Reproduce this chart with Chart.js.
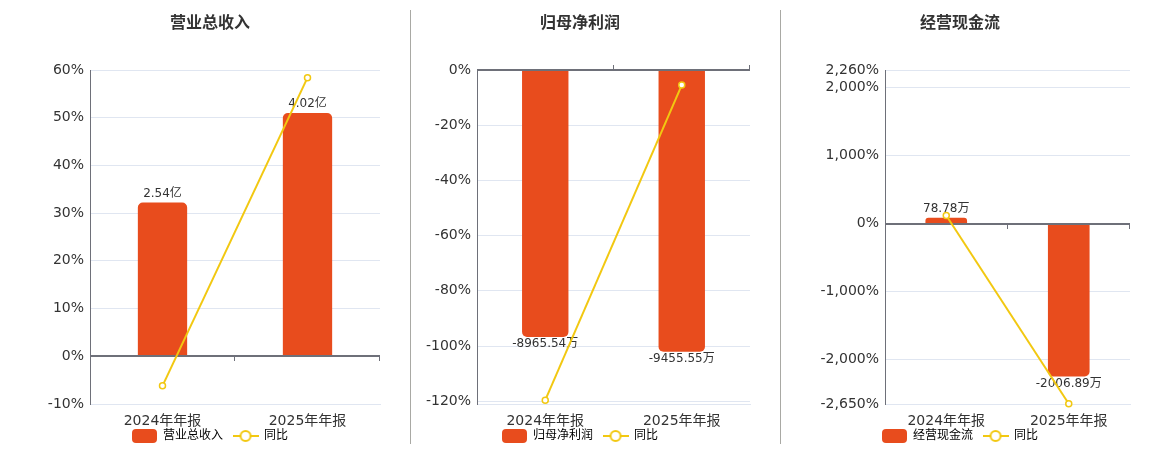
<!DOCTYPE html>
<html>
<head>
<meta charset="utf-8">
<script src="https://cdn.jsdelivr.net/npm/chart.js@4.4.1/dist/chart.umd.min.js"></script>
<style>
  body { margin: 0; width: 1160px; height: 450px; overflow: hidden; background: #fff; position: relative; }
  canvas { position: absolute; top: 0; }
  .sep { position: absolute; top: 10px; width: 1px; height: 434px; background: #a9a9a4; }
</style>
</head>
<body>
<canvas id="c1" width="400" height="452" style="left:10px"></canvas>
<canvas id="c2" width="360" height="452" style="left:400px"></canvas>
<canvas id="c3" width="360" height="452" style="left:780px"></canvas>
<div class="sep" style="left:410px"></div>
<div class="sep" style="left:780px"></div>
<script>
const categories = ["2024年年报", "2025年年报"];

// 营业总收入 (亿) + 同比 (%)
const revenue = [2.54, 4.02];
const revenueYoy = [-6.2, 58.4];
const revenueTicks = [-10, 0, 10, 20, 30, 40, 50, 60];

// 归母净利润 (万) + 同比 (%)
const profit = [-8965.54, -9455.55];
const profitYoy = [-119.6, -5.47];
const profitTicks = [-120, -100, -80, -60, -40, -20, 0];

// 经营现金流 (万) + 同比 (%)
const cashFlow = [78.78, -2006.89];
const cashFlowYoy = [122, -2647];
const cashFlowTicks = [-2650, -2000, -1000, 0, 1000, 2000, 2260];

const BAR = "#e84c1d";
const LINE = "#f2c811";
const FONT = "'DejaVu Sans', 'Noto Sans CJK SC', sans-serif";

Chart.defaults.font.family = FONT;
Chart.defaults.color = "#333";

// legend icons
function barIcon() {
  const c = document.createElement("canvas");
  c.width = 25; c.height = 14;
  const g = c.getContext("2d");
  g.fillStyle = BAR;
  g.beginPath();
  g.roundRect(0, 0, 25, 14, 4);
  g.fill();
  return c;
}
function lineIcon() {
  const c = document.createElement("canvas");
  c.width = 26; c.height = 14;
  const g = c.getContext("2d");
  g.strokeStyle = LINE;
  g.lineWidth = 2;
  g.beginPath(); g.moveTo(0, 7); g.lineTo(26, 7); g.stroke();
  g.fillStyle = "#fff";
  g.beginPath(); g.arc(13, 7, 5, 0, Math.PI * 2); g.fill(); g.stroke();
  return c;
}

// zero axis line with its ticks, and value labels on the bars
const barExtras = {
  id: "barExtras",
  afterDatasetDraw(chart, args, opts) {
    if (args.index !== 0) return;
    const ctx = chart.ctx, area = chart.chartArea;
    const y0 = Math.round(chart.scales.y.getPixelForValue(0));
    ctx.save();
    ctx.strokeStyle = "#6e7079";
    ctx.lineWidth = 2;
    ctx.beginPath(); ctx.moveTo(area.left, y0); ctx.lineTo(area.right, y0); ctx.stroke();
    ctx.lineWidth = 1;
    const n = chart.data.labels.length;
    const step = (area.right - area.left) / n;
    for (let i = 1; i <= n; i++) {
      const x = Math.round(area.left + i * step) - 0.5;
      ctx.beginPath(); ctx.moveTo(x, y0); ctx.lineTo(x, y0 + opts.tickDir * 5); ctx.stroke();
    }
    ctx.font = "12px " + FONT;
    ctx.fillStyle = "#333";
    ctx.textAlign = "center";
    ctx.textBaseline = "middle";
    const values = chart.data.datasets[0].data;
    args.meta.data.forEach((bar, i) => {
      const v = values[i];
      const y = v >= 0 ? bar.y - 9 : bar.y + 7;
      ctx.fillText(v.toFixed(2) + opts.unit, bar.x, y);
    });
    ctx.restore();
  }
};

function makeChart(id, cfg) {
  return new Chart(document.getElementById(id), {
    data: {
      labels: categories,
      datasets: [
        {
          type: "bar", label: cfg.name, data: cfg.bars, yAxisID: "yBar", order: 1,
          backgroundColor: BAR, borderRadius: 5, borderSkipped: "start",
          barPercentage: 0.34, categoryPercentage: 1
        },
        {
          type: "line", label: "同比", data: cfg.yoy, yAxisID: "y", order: 0,
          borderColor: LINE, borderWidth: 2, tension: 0, clip: false,
          pointRadius: 3, pointBorderWidth: 1.5, pointBackgroundColor: "#fff", pointBorderColor: LINE
        }
      ]
    },
    options: {
      responsive: false,
      animation: false,
      layout: { padding: 0 },
      plugins: {
        tooltip: { enabled: false },
        title: {
          display: true, text: cfg.name, color: "#333",
          font: { size: 16, weight: "bold" },
          padding: { top: 14, bottom: 36.8 }
        },
        legend: {
          position: "bottom",
          labels: {
            usePointStyle: true, pointStyleWidth: 25, padding: 10,
            color: "#333", font: { size: 12 },
            generateLabels: () => [
              { text: cfg.name, pointStyle: barIcon(), datasetIndex: 0, hidden: false, lineWidth: 0 },
              { text: "同比", pointStyle: lineIcon(), datasetIndex: 1, hidden: false, lineWidth: 0 }
            ]
          }
        },
        barExtras: { unit: cfg.unit, tickDir: cfg.tickDir }
      },
      scales: {
        x: {
          offset: true,
          grid: { display: false, drawTicks: false },
          border: { color: "#e0e6f1" },
          // mirror keeps the labels from being clipped to the short axis box
          ticks: { font: { size: 14 }, color: "#333", mirror: true, padding: -25.6 },
          afterFit: s => { s.height = 16; }
        },
        y: {
          position: "left",
          min: cfg.pctMin, max: cfg.pctMax,
          afterBuildTicks: s => { s.ticks = cfg.ticks.map(v => ({ value: v })); },
          grid: {
            drawTicks: false,
            color: c => (c.tick && c.tick.value === 0 ? "rgba(0,0,0,0)" : "#e0e6f1")
          },
          border: { color: "#6e7079", width: 1 },
          ticks: {
            font: { size: 14 }, color: "#333", padding: 6,
            callback: v => v.toLocaleString("en-US") + "%"
          },
          afterFit: s => { s.width = cfg.axisWidth; }
        },
        yBar: {
          position: "right",
          min: cfg.barRange[0], max: cfg.barRange[1],
          ticks: { display: false },
          grid: { display: false },
          border: { display: false },
          afterFit: s => { s.width = cfg.rightPad; }
        }
      }
    },
    plugins: [barExtras]
  });
}

makeChart("c1", {
  name: "营业总收入", unit: "亿", bars: revenue, yoy: revenueYoy, ticks: revenueTicks,
  pctMin: -10, pctMax: 60, barRange: [-0.788, 4.73],
  axisWidth: 80, rightPad: 30, tickDir: 1
});
makeChart("c2", {
  name: "归母净利润", unit: "万", bars: profit, yoy: profitYoy, ticks: profitTicks,
  pctMin: -121, pctMax: 0, barRange: [-11214, 0],
  axisWidth: 77, rightPad: 10, tickDir: -1
});
makeChart("c3", {
  name: "经营现金流", unit: "万", bars: cashFlow, yoy: cashFlowYoy, ticks: cashFlowTicks,
  pctMin: -2650, pctMax: 2260, barRange: [-2369, 2020],
  axisWidth: 105, rightPad: 10, tickDir: 1
});
</script>
</body>
</html>
